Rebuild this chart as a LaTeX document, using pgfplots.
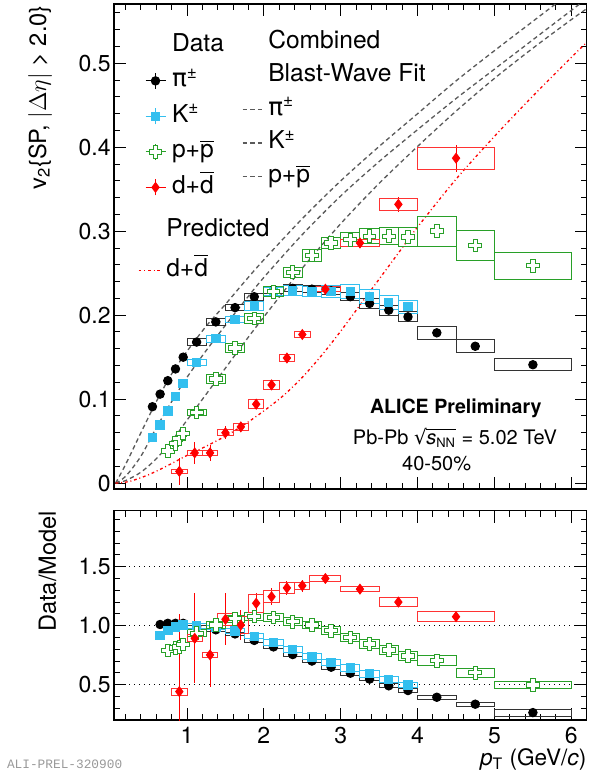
\documentclass[border=0pt]{standalone}
\usepackage{fontspec}
\setmainfont{TeX Gyre Heros}
\setmonofont{Liberation Mono}
\newfontfamily\symfont{DejaVu Sans}
\usepackage{pgfplots}
\pgfplotsset{compat=1.18}
\usepackage{pgfplotstable}

\definecolor{kcol}{RGB}{51,191,239}
\definecolor{pcol}{RGB}{40,160,40}
\definecolor{dcol}{RGB}{255,0,0}
\definecolor{bwgray}{RGB}{90,90,90}

\pgfdeclareplotmark{nothing}{}
\pgfdeclareplotmark{ocross}{%
 \pgfpathmoveto{\pgfqpoint{-0.35\pgfplotmarksize}{\pgfplotmarksize}}%
 \pgfpathlineto{\pgfqpoint{0.35\pgfplotmarksize}{\pgfplotmarksize}}%
 \pgfpathlineto{\pgfqpoint{0.35\pgfplotmarksize}{0.35\pgfplotmarksize}}%
 \pgfpathlineto{\pgfqpoint{\pgfplotmarksize}{0.35\pgfplotmarksize}}%
 \pgfpathlineto{\pgfqpoint{\pgfplotmarksize}{-0.35\pgfplotmarksize}}%
 \pgfpathlineto{\pgfqpoint{0.35\pgfplotmarksize}{-0.35\pgfplotmarksize}}%
 \pgfpathlineto{\pgfqpoint{0.35\pgfplotmarksize}{-\pgfplotmarksize}}%
 \pgfpathlineto{\pgfqpoint{-0.35\pgfplotmarksize}{-\pgfplotmarksize}}%
 \pgfpathlineto{\pgfqpoint{-0.35\pgfplotmarksize}{-0.35\pgfplotmarksize}}%
 \pgfpathlineto{\pgfqpoint{-\pgfplotmarksize}{-0.35\pgfplotmarksize}}%
 \pgfpathlineto{\pgfqpoint{-\pgfplotmarksize}{0.35\pgfplotmarksize}}%
 \pgfpathlineto{\pgfqpoint{-0.35\pgfplotmarksize}{0.35\pgfplotmarksize}}%
 \pgfpathclose
 \pgfusepathqfillstroke
}

\newcommand\tlfont{\fontsize{11.5}{13}\selectfont}
\newcommand\legfont{\fontsize{12.3}{14}\selectfont}
\newcommand\pip{{\symfont π}\textsuperscript{±}}
\newcommand\sqrtsnn{{\symfont √}\kern-0.3pt\vbox{\hrule height 0.45pt\kern 1.9pt\hbox{\itshape s\textsubscript{\upshape\fontsize{6.5}{7}\selectfont NN}}}}

% ---------------- data: top panel (v2) ----------------
\pgfplotstableread{
x y ey bx by
0.55 0.091 0.0005 0.04 0.003
0.65 0.106 0.0005 0.04 0.003
0.75 0.122 0.0005 0.04 0.003
0.85 0.136 0.0005 0.04 0.003
0.95 0.150 0.0005 0.04 0.003
1.125 0.168 0.0006 0.125 0.004
1.375 0.192 0.0006 0.125 0.004
1.625 0.209 0.0006 0.125 0.004
1.875 0.222 0.0007 0.125 0.004
2.125 0.230 0.0008 0.125 0.004
2.375 0.232 0.0009 0.125 0.004
2.625 0.231 0.001 0.125 0.004
2.875 0.229 0.001 0.125 0.004
3.125 0.222 0.001 0.125 0.005
3.375 0.214 0.001 0.125 0.006
3.625 0.206 0.001 0.125 0.006
3.875 0.198 0.001 0.125 0.006
4.25 0.179 0.001 0.25 0.0075
4.75 0.163 0.002 0.25 0.0075
5.5 0.141 0.002 0.5 0.007
}\pitop
\pgfplotstableread{
x y ey bx by
0.55 0.054 0.0005 0.04 0.003
0.65 0.069 0.0005 0.04 0.003
0.75 0.086 0.0005 0.04 0.003
0.85 0.103 0.0005 0.04 0.003
0.95 0.119 0.0005 0.04 0.003
1.125 0.1436 0.0006 0.125 0.004
1.375 0.172 0.0006 0.125 0.004
1.625 0.195 0.0007 0.125 0.004
1.875 0.211 0.0008 0.125 0.005
2.125 0.228 0.0009 0.125 0.005
2.375 0.229 0.001 0.125 0.006
2.625 0.228 0.001 0.125 0.006
2.875 0.228 0.001 0.125 0.007
3.125 0.228 0.001 0.125 0.008
3.375 0.222 0.001 0.125 0.008
3.625 0.215 0.001 0.125 0.008
3.875 0.210 0.001 0.125 0.0075
}\ktop
\pgfplotstableread{
x y ey bx by
0.75 0.038 0.001 0.04 0.003
0.85 0.047 0.001 0.04 0.003
0.90 0.053 0.001 0.04 0.003
0.95 0.059 0.001 0.04 0.003
1.125 0.084 0.001 0.125 0.004
1.375 0.124 0.001 0.125 0.005
1.625 0.161 0.001 0.125 0.005
1.875 0.196 0.001 0.125 0.006
2.125 0.228 0.001 0.125 0.006
2.375 0.251 0.001 0.125 0.006
2.625 0.271 0.001 0.125 0.007
2.875 0.286 0.001 0.125 0.007
3.125 0.290 0.002 0.125 0.008
3.375 0.294 0.002 0.125 0.009
3.625 0.294 0.002 0.125 0.010
3.875 0.293 0.002 0.125 0.011
4.25 0.300 0.003 0.25 0.018
4.75 0.283 0.003 0.25 0.0175
5.5 0.259 0.003 0.5 0.016
}\ptop
\pgfplotstableread{
x y ey bx by
0.9 0.014 0.016 0.1 0.002
1.1 0.036 0.013 0.1 0.003
1.3 0.036 0.010 0.1 0.003
1.5 0.060 0.008 0.1 0.0036
1.7 0.067 0.006 0.1 0.004
1.9 0.094 0.005 0.1 0.0055
2.1 0.117 0.005 0.1 0.005
2.3 0.149 0.005 0.1 0.0045
2.5 0.177 0.005 0.1 0.003
2.8 0.231 0.004 0.2 0.003
3.25 0.286 0.006 0.25 0.004
3.75 0.332 0.009 0.25 0.007
4.5 0.387 0.016 0.5 0.013
}\dtop

% ---------------- data: bottom panel (Data/Model) ----------------
\pgfplotstableread{
x y ey bx by
0.65 1.01 0.004 0.04 0.012
0.75 1.02 0.004 0.04 0.012
0.85 1.02 0.004 0.04 0.012
0.95 1.02 0.004 0.04 0.012
1.125 0.99 0.004 0.125 0.015
1.375 0.965 0.004 0.125 0.015
1.625 0.93 0.004 0.125 0.015
1.875 0.875 0.004 0.125 0.016
2.125 0.82 0.004 0.125 0.016
2.375 0.755 0.005 0.125 0.016
2.625 0.70 0.005 0.125 0.016
2.875 0.648 0.005 0.125 0.016
3.125 0.597 0.005 0.125 0.016
3.375 0.547 0.006 0.125 0.016
3.625 0.49 0.006 0.125 0.016
3.875 0.45 0.006 0.125 0.016
4.25 0.393 0.006 0.25 0.018
4.75 0.334 0.008 0.25 0.018
5.5 0.263 0.01 0.5 0.03
}\pirat
\pgfplotstableread{
x y ey bx by
0.65 0.915 0.005 0.04 0.015
0.75 0.958 0.005 0.04 0.015
0.85 0.99 0.005 0.04 0.015
0.95 1.005 0.005 0.04 0.015
1.125 1.0 0.005 0.125 0.02
1.375 0.985 0.005 0.125 0.02
1.625 0.955 0.005 0.125 0.02
1.875 0.91 0.005 0.125 0.022
2.125 0.858 0.005 0.125 0.024
2.375 0.80 0.005 0.125 0.025
2.625 0.735 0.006 0.125 0.026
2.875 0.686 0.006 0.125 0.027
3.125 0.64 0.006 0.125 0.028
3.375 0.592 0.006 0.125 0.028
3.625 0.546 0.006 0.125 0.027
3.875 0.497 0.006 0.125 0.025
}\krat
\pgfplotstableread{
x y ey bx by
0.75 0.79 0.01 0.04 0.02
0.85 0.81 0.01 0.04 0.02
0.90 0.82 0.01 0.04 0.02
0.95 0.84 0.01 0.04 0.02
1.125 0.935 0.01 0.125 0.03
1.375 1.006 0.01 0.125 0.03
1.625 1.06 0.01 0.125 0.03
1.875 1.077 0.01 0.125 0.032
2.125 1.07 0.01 0.125 0.033
2.375 1.034 0.01 0.125 0.033
2.625 1.006 0.01 0.125 0.033
2.875 0.958 0.01 0.125 0.033
3.125 0.90 0.01 0.125 0.034
3.375 0.845 0.01 0.125 0.035
3.625 0.794 0.01 0.125 0.036
3.875 0.743 0.01 0.125 0.037
4.25 0.703 0.01 0.25 0.044
4.75 0.602 0.01 0.25 0.038
5.5 0.497 0.01 0.5 0.033
}\prat
\pgfplotstableread{
x y ey bx by
0.9 0.441 0.66 0.1 0.03
1.1 0.893 0.38 0.1 0.03
1.3 0.752 0.27 0.1 0.02
1.5 1.054 0.22 0.1 0.05
1.7 1.006 0.13 0.1 0.07
1.9 1.19 0.09 0.1 0.075
2.1 1.246 0.07 0.1 0.05
2.3 1.32 0.06 0.1 0.05
2.5 1.339 0.05 0.1 0.03
2.8 1.40 0.03 0.2 0.025
3.25 1.31 0.03 0.25 0.02
3.75 1.20 0.03 0.25 0.035
4.5 1.076 0.03 0.5 0.04
}\drat

\pgfplotsset{
  rootaxis/.style={scale only axis, width=236.35pt, xmin=0.05, xmax=6.2,
    tick align=inside, major tick length=6pt, minor tick length=3pt,
    axis line style={line width=0.6pt}, tick style={black, line width=0.5pt},
    xtick={1,2,3,4,5,6}, minor xtick={0.2,0.4,...,6.2},
    yticklabel style={font=\tlfont, inner sep=1.5pt},
    xticklabel style={font=\tlfont, inner sep=3.5pt},
    every axis y label/.style={rotate=90, anchor=east, font=\fontsize{11.8}{13}\selectfont, inner sep=0pt},
  },
  boxes/.style={only marks, mark=nothing, scatter, forget plot,
    visualization depends on={\thisrow{bx} \as \bx},
    visualization depends on={\thisrow{by} \as \by},
    scatter/@pre marker code/.code={\draw[#1, line width=0.5pt] (axis direction cs:-\bx,-\by) rectangle (axis direction cs:\bx,\by);},
    scatter/@post marker code/.code={}},
  pistyle/.style={black, mark=*, mark size=2.1pt, line width=0.5pt},
  kstyle/.style={kcol, mark=square*, mark size=2.1pt, line width=0.5pt},
  pstyle/.style={pcol, mark=ocross, mark size=3.2pt, mark options={fill=white}, line width=0.5pt},
  dstyle/.style={dcol, mark=diamond*, mark size=2.4pt, line width=0.5pt},
  pts/.style={only marks, forget plot, error bars/.cd, y dir=both, y explicit, error mark=none, error bar style={line width=0.5pt}},
  mleg/.style={legend image code/.code={
     \draw[line width=0.5pt] (0pt,0pt) -- (10pt,0pt) (5pt,-4pt) -- (5pt,4pt);
     \draw[line width=0.5pt] plot coordinates {(5pt,0pt)};}},
  bwline/.style={bwgray, line width=0.65pt, dash pattern=on 2.2pt off 1.6pt},
  dline/.style={dcol, line width=0.65pt, dash pattern=on 1.4pt off 1.4pt on 0.5pt off 1.4pt},
}

\begin{document}
\begin{tikzpicture}
\useasboundingbox (0,0) rectangle (295.5pt,-385.5pt);

% ================= top panel =================
\begin{axis}[rootaxis, at={(57pt,-244.5pt)}, anchor=south west, height=242.5pt,
  ymin=-0.007, ymax=0.5706,
  ytick={0,0.1,0.2,0.3,0.4,0.5}, yticklabels={0,0.1,0.2,0.3,0.4,0.5},
  minor ytick={0.02,0.04,...,0.56}, xticklabels={},
  ylabel={v\textsubscript{2}\{SP, $|\Delta\eta|$ > 2.0\}},
  ylabel style={at={(rel axis cs:-0.1565,0.998)}},
]
% blast-wave fits
\addplot[bwline, smooth, forget plot] coordinates {(0.07,0) (0.2,0.022) (0.4,0.060) (0.6,0.097) (0.8,0.130) (1.0,0.157) (1.25,0.187) (1.5,0.213) (1.75,0.240) (2.0,0.266) (2.5,0.315) (3.0,0.360) (3.5,0.401) (4.0,0.440) (4.5,0.479) (5.0,0.515) (5.5,0.550) (6.0,0.585) (6.2,0.599)};
\addplot[bwline, smooth, forget plot] coordinates {(0.07,0) (0.2,0.008) (0.4,0.032) (0.6,0.066) (0.8,0.097) (1.0,0.126) (1.25,0.158) (1.5,0.188) (1.75,0.217) (2.0,0.245) (2.5,0.296) (3.0,0.342) (3.5,0.383) (4.0,0.421) (4.5,0.458) (5.0,0.493) (5.5,0.528) (6.0,0.563) (6.2,0.577)};
\addplot[bwline, smooth, forget plot] coordinates {(0.07,0) (0.2,0.003) (0.4,0.013) (0.6,0.029) (0.8,0.050) (1.0,0.075) (1.25,0.106) (1.5,0.137) (1.75,0.168) (2.0,0.198) (2.5,0.256) (3.0,0.309) (3.5,0.357) (4.0,0.401) (4.5,0.443) (5.0,0.482) (5.5,0.518) (6.0,0.552) (6.2,0.565)};
\addplot[dline, smooth, forget plot] coordinates {(0.07,0) (0.25,0.002) (0.5,0.010) (0.75,0.021) (1.0,0.033) (1.25,0.044) (1.5,0.056) (1.75,0.070) (2.0,0.086) (2.25,0.104) (2.5,0.126) (2.75,0.152) (3.0,0.181) (3.25,0.212) (3.5,0.243) (3.75,0.274) (4.0,0.305) (4.5,0.362) (5.0,0.413) (5.5,0.461) (6.0,0.507) (6.2,0.525)};
% systematic boxes
\addplot[boxes={black!80}] table[x=x,y=y] {\pitop};
\addplot[boxes={kcol}] table[x=x,y=y] {\ktop};
\addplot[boxes={pcol}] table[x=x,y=y] {\ptop};
\addplot[boxes={dcol!80}] table[x=x,y=y] {\dtop};
% points
\addplot[pistyle, pts] table[x=x,y=y,y error=ey] {\pitop};
\addplot[kstyle, pts] table[x=x,y=y,y error=ey] {\ktop};
\addplot[pstyle, pts] table[x=x,y=y,y error=ey] {\ptop};
\addplot[dstyle, pts] table[x=x,y=y,y error=ey] {\dtop};
\end{axis}

% legend block A (Data)
\begin{axis}[at={(57pt,-244.5pt)}, anchor=south west, scale only axis, width=236.35pt, height=242.5pt,
  hide axis, xmin=0, xmax=1, ymin=0, ymax=1,
  legend cell align=left,
  legend style={draw=none, fill=none, at={(rel axis cs:0.0656,0.9394)}, anchor=north west,
    font=\legfont, inner sep=0pt, outer sep=0pt, row sep=5.75pt, column sep=3pt,
    nodes={inner sep=0pt, text height=9pt, text depth=3pt}}]
\addlegendimage{empty legend}\addlegendentry{Data}
\addlegendimage{pistyle, mleg}\addlegendentry{\pip}
\addlegendimage{kstyle, mleg}\addlegendentry{K\textsuperscript{±}}
\addlegendimage{pstyle, mleg}\addlegendentry{p+$\overline{\mbox{p}}$}
\addlegendimage{dstyle, mleg}\addlegendentry{d+$\overline{\mbox{d}}$}
\end{axis}

% legend block B (Predicted)
\begin{axis}[at={(57pt,-244.5pt)}, anchor=south west, scale only axis, width=236.35pt, height=242.5pt,
  hide axis, xmin=0, xmax=1, ymin=0, ymax=1,
  legend cell align=left,
  legend style={draw=none, fill=none, at={(rel axis cs:0.0508,0.558)}, anchor=north west,
    font=\legfont, inner sep=0pt, outer sep=0pt, row sep=8pt, column sep=1.5pt,
    nodes={inner sep=0pt, text height=9pt, text depth=3pt}}]
\addlegendimage{empty legend}\addlegendentry{Predicted}
\addlegendimage{dline, legend image code/.code={\draw (0pt,0pt) -- (12pt,0pt);}}\addlegendentry{d+$\overline{\mbox{d}}$}
\end{axis}

% legend block C (Blast-Wave)
\begin{axis}[at={(57pt,-244.5pt)}, anchor=south west, scale only axis, width=236.35pt, height=242.5pt,
  hide axis, xmin=0, xmax=1, ymin=0, ymax=1,
  legend cell align=left,
  legend style={draw=none, fill=none, at={(rel axis cs:0.2708,0.9456)}, anchor=north west,
    font=\legfont, inner sep=0pt, outer sep=0pt, row sep=4.75pt, column sep=2.5pt,
    nodes={inner sep=0pt, text height=9pt, text depth=3pt}}]
\addlegendimage{empty legend}\addlegendentry{Combined}
\addlegendimage{empty legend}\addlegendentry{Blast-Wave Fit}
\addlegendimage{bwline, legend image code/.code={\draw (0pt,0pt) -- (10pt,0pt);}}\addlegendentry{\pip}
\addlegendimage{bwline, legend image code/.code={\draw (0pt,0pt) -- (10pt,0pt);}}\addlegendentry{K\textsuperscript{±}}
\addlegendimage{bwline, legend image code/.code={\draw (0pt,0pt) -- (10pt,0pt);}}\addlegendentry{p+$\overline{\mbox{p}}$}
\end{axis}

% ================= bottom panel =================
\begin{axis}[rootaxis, at={(57pt,-360pt)}, anchor=south west, height=104.65pt,
  ymin=0.2, ymax=1.975,
  ytick={0.5,1,1.5}, yticklabels={0.5,1.0,1.5},
  minor ytick={0.3,0.4,...,1.9},
  xticklabels={1,2,3,4,5,6},
  ylabel={Data/Model},
  ylabel style={at={(rel axis cs:-0.1407,1)}},
  xlabel={\textit{p}\textsubscript{T} (GeV/\textit{c})},
  xlabel style={at={(rel axis cs:1,0)}, anchor=north east, yshift=-14pt, inner sep=0pt, font=\fontsize{11.3}{13}\selectfont},
]
\addplot[black, dotted, line width=0.5pt, forget plot] coordinates {(0.05,0.5) (6.2,0.5)};
\addplot[black, dotted, line width=0.5pt, forget plot] coordinates {(0.05,1.0) (6.2,1.0)};
\addplot[black, dotted, line width=0.5pt, forget plot] coordinates {(0.05,1.5) (6.2,1.5)};
\addplot[boxes={black!80}] table[x=x,y=y] {\pirat};
\addplot[boxes={kcol}] table[x=x,y=y] {\krat};
\addplot[boxes={pcol}] table[x=x,y=y] {\prat};
\addplot[boxes={dcol!80}] table[x=x,y=y] {\drat};
\addplot[pistyle, pts] table[x=x,y=y,y error=ey] {\pirat};
\addplot[kstyle, pts] table[x=x,y=y,y error=ey] {\krat};
\addplot[pstyle, pts] table[x=x,y=y,y error=ey] {\prat};
\addplot[dstyle, pts] table[x=x,y=y,y error=ey] {\drat};
\end{axis}

% ================= texts =================
\node[anchor=base, font=\bfseries\fontsize{9.8}{11}\selectfont, inner sep=0pt] at (227.9pt,-206.8pt) {ALICE Preliminary};
\node[anchor=base, font=\fontsize{10}{12}\selectfont, inner sep=0pt] at (227.5pt,-222.3pt) {Pb-Pb \sqrtsnn\ = 5.02 TeV};
\node[anchor=base, font=\fontsize{10}{12}\selectfont, inner sep=0pt] at (218.3pt,-235.3pt) {40-50\%};
\node[anchor=base west, font=\ttfamily\fontsize{6.4}{7}\selectfont, text=black!40, inner sep=0pt] at (3.3pt,-384pt) {ALI-PREL-320900};
\end{tikzpicture}
\end{document}
